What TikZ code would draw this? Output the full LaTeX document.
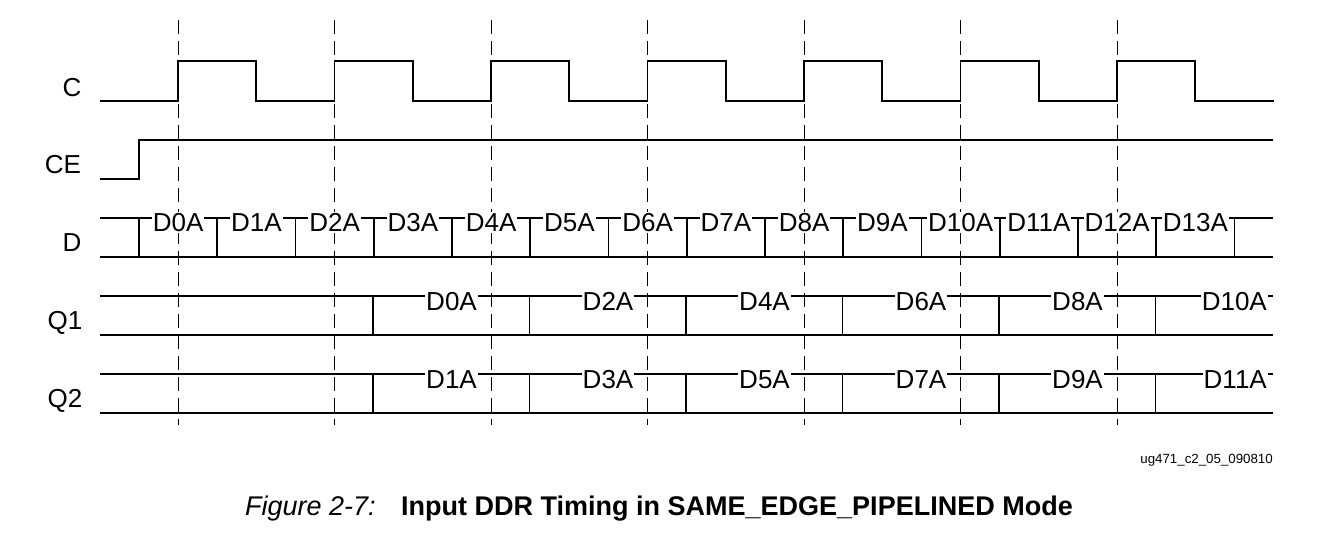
\documentclass[tikz,border=0pt]{standalone}
\usepackage{fontspec}
\setmainfont{Liberation Sans}
\begin{document}
\begin{tikzpicture}[x=1pt,y=-1pt,
  sig/.style={line width=1.8pt},
  dsh/.style={line width=1pt,dash pattern=on 14pt off 7pt},
  lbl/.style={font=\fontsize{26}{28}\selectfont,inner sep=1pt,fill=white,text height=18.6pt,text depth=0pt,anchor=base,yshift=9.3pt},
  nm/.style={font=\fontsize{26}{28}\selectfont,inner sep=0pt,text height=18.6pt,text depth=0pt}]
\useasboundingbox (0,0) rectangle (1319,534);
% dashed clock lines
\foreach \i in {0,...,6}{
  \coordinate (t\i) at ({178+156.5*\i},20);
  \coordinate (b\i) at ({178+156.5*\i},425);
  \draw[dsh] (t\i) -- (b\i);}
% names
\node[nm] (nC) at (72,87) {C};
\node[nm] (nCE) at (63,164) {CE};
\node[nm] (nD) at (72,242) {D};
\node[nm] (nQ1) at (65,320) {Q1};
\node[nm] (nQ2) at (65,398) {Q2};
% C
\draw[sig] (100,101) -- (178,101)
  \foreach \i in {0,...,6}{ -- ({178+156.5*\i},61) -- ({256.25+156.5*\i},61) -- ({256.25+156.5*\i},101) -- ({334.5+156.5*\i},101)};
% CE
\draw[sig] (100,179) -- (139,179) -- (139,140) -- (1273,140);
% D bus
\draw[sig] (100,218) -- (1273,218);
\draw[sig] (100,257) -- (1273,257);
\foreach \i in {0,...,14}{\draw[sig] ({139+78.25*\i},218) -- ({139+78.25*\i},257);}
\foreach \i in {0,...,13}{\node[lbl] (d\i) at ({178.1+78.25*\i},241) {D\i A};}
% Q1, Q2
\foreach \y/\n/\s in {296/q1/0,374/q2/1}{
  \draw[sig] (100,\y) -- (1273,\y);
  \draw[sig] (100,\y+39) -- (1273,\y+39);
  \foreach \i in {0,...,5}{\draw[sig] ({373+156.5*\i},\y) -- ({373+156.5*\i},\y+39);}
}
\foreach \i/\v in {0/0,1/2,2/4,3/6,4/8}{\node[lbl,anchor=base east] (qa\i) at ({478+156.5*\i},320) {D\v A};}
\node[lbl,anchor=base east] (qa5) at (1268,320) {D10A};
\foreach \i/\v in {0/1,1/3,2/5,3/7,4/9}{\node[lbl,anchor=base east] (qb\i) at ({478+156.5*\i},398) {D\v A};}
\node[lbl,anchor=base east] (qb5) at (1268,398) {D11A};
% id and caption
\node[inner sep=0pt,anchor=east,font=\fontsize{13.3}{15}\selectfont] (id) at (1273,460) {ug471\_c2\_05\_090810};
\node[inner sep=0pt,anchor=west,font=\fontsize{27}{29}\selectfont\itshape] (fig) at (245,509) {Figure 2-7:};
\node[inner sep=0pt,anchor=west,font=\fontsize{27}{29}\selectfont\bfseries] (cap) at (401,509) {Input DDR Timing in SAME\_EDGE\_PIPELINED Mode};
\end{tikzpicture}
\end{document}
